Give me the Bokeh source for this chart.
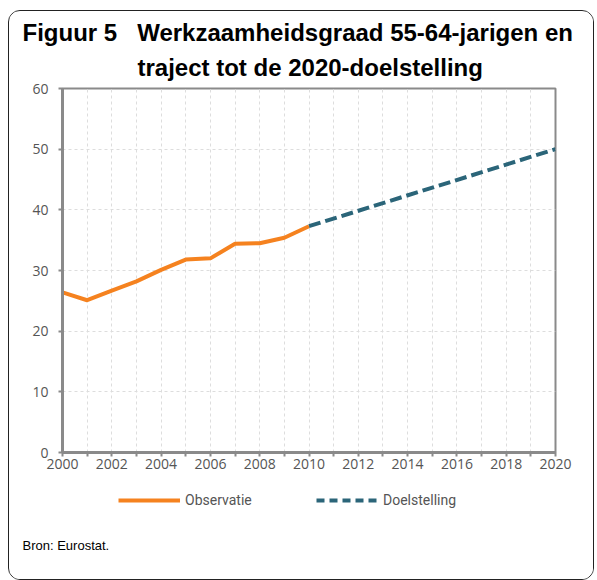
from bokeh.plotting import figure
from bokeh.layouts import column
from bokeh.models import (Range1d, FixedTicker, Legend, LegendItem, Title,
                          InlineStyleSheet)
from bokeh.embed import file_html
from bokeh.resources import INLINE

# Data
obs_years = [2000, 2001, 2002, 2003, 2004, 2005, 2006, 2007, 2008, 2009, 2010]
obs_values = [26.4, 25.1, 26.7, 28.2, 30.1, 31.8, 32.0, 34.4, 34.5, 35.4, 37.3]
target_years = [2010, 2020]
target_values = [37.3, 50.0]
x_ticks = list(range(2000, 2021))
y_ticks = [0, 10, 20, 30, 40, 50, 60]
series_names = ["Observatie", "Doelstelling"]

ORANGE = "#F5821F"
TEAL = "#2B6579"
AXIS = "#8a8a8a"
W = 584
NB = "\u00a0"

# ---- chart ----
p = figure(width=W, height=467, output_backend="svg", toolbar_location=None,
           x_range=Range1d(2000, 2020), y_range=Range1d(0, 60),
           min_border_left=53, min_border_right=38,
           min_border_top=77, min_border_bottom=26)
p.background_fill_color = "white"
p.outline_line_color = AXIS
p.outline_line_width = 2

p.line(obs_years, obs_values, line_color=ORANGE, line_width=4)
p.line(target_years, target_values, line_color=TEAL, line_width=4, line_dash="12 5")

p.xaxis.ticker = FixedTicker(ticks=x_ticks)
p.xaxis.major_label_overrides = {y: (str(y) if y % 2 == 0 else "") for y in x_ticks}
p.yaxis.ticker = FixedTicker(ticks=y_ticks)
for ax in (p.xaxis[0], p.yaxis[0]):
    ax.axis_line_color = AXIS
    ax.axis_line_width = 3
    ax.major_tick_line_color = AXIS
    ax.major_tick_line_width = 2
    ax.major_tick_out = 4
    ax.major_tick_in = 0
    ax.minor_tick_line_color = None
    ax.major_label_text_font = "Open Sans"
    ax.major_label_text_font_size = "14px"
    ax.major_label_text_color = "#555555"
p.xaxis.major_label_standoff = 2
p.yaxis.major_label_standoff = 10

p.xgrid.ticker = FixedTicker(ticks=x_ticks)
p.ygrid.ticker = FixedTicker(ticks=y_ticks)
for g in (p.xgrid[0], p.ygrid[0]):
    g.grid_line_color = "#dddddd"
    g.grid_line_dash = "3 3"
    g.grid_line_width = 1

# titles: p.title is the outer line, the added one sits next to the frame
p.title.text = "Figuur 5" + NB * 3 + "Werkzaamheidsgraad 55-64-jarigen en"
p.title.align = "left"
p.title.offset = -40
p.title.text_font = "Liberation Sans"
p.title.text_font_size = "24px"
p.title.text_font_style = "bold"
p.title.text_color = "black"
p.title.standoff = -5
p.add_layout(Title(text="traject tot de 2020-doelstelling",
                   align="left", offset=75, text_font="Liberation Sans",
                   text_font_size="24px", text_font_style="bold",
                   text_color="black", standoff=16), "above")

# ---- legend + source panel ----
b = figure(width=W, height=101, output_backend="svg", toolbar_location=None,
           x_range=Range1d(2000, 2020), y_range=Range1d(-2, -1),
           min_border_left=53, min_border_right=38,
           min_border_top=0, min_border_bottom=45,
           x_axis_type=None, y_axis_type=None)
b.grid.visible = False
b.outline_line_color = None
k_obs = b.line(obs_years, obs_values, line_color=ORANGE, line_width=4)
k_tgt = b.line(target_years, target_values, line_color=TEAL, line_width=4,
               line_dash="8 5")
legend = Legend(items=[LegendItem(label=series_names[0], renderers=[k_obs]),
                       LegendItem(label=series_names[1], renderers=[k_tgt])],
                orientation="horizontal", location=(56, 24),
                glyph_width=62, glyph_height=12, label_standoff=5,
                label_width=70, spacing=61, label_height=20,
                padding=0, margin=0, border_line_color=None,
                background_fill_color=None,
                label_text_font="Roboto", label_text_font_size="14px",
                label_text_color="#555555")
b.add_layout(legend, "center")
b.add_layout(Title(text="Bron: Eurostat.", align="left", offset=-40,
                   text_font="Liberation Sans", text_font_size="13px",
                   text_font_style="normal", text_color="black", standoff=3),
             "below")

layout = column(p, b, spacing=0)
layout.stylesheets = [InlineStyleSheet(css=":host { border: 1px solid #222; border-radius: 12px; margin-left: 8px; margin-top: 10px; overflow: hidden; }")]

open("out.html", "w").write(file_html(layout, INLINE))
